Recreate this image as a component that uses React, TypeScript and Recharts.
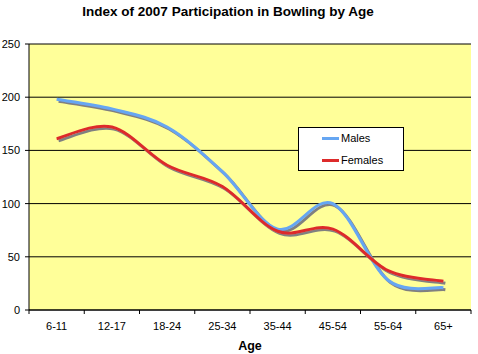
import { CartesianGrid, Legend, Line, LineChart, XAxis, YAxis } from "recharts";

const ageGroups = ["6-11", "12-17", "18-24", "25-34", "35-44", "45-54", "55-64", "65+"];
const males = [198, 189, 172, 130, 76, 100, 28, 21];
const females = [161, 172, 136, 116, 74, 76, 37, 27];
const seriesNames = ["Males", "Females"];
const yTicks = [0, 50, 100, 150, 200, 250];

const W = 478;
const H = 354;
const margin = { top: 44, right: 7, bottom: 0, left: 0 };
const yAxisWidth = 29;
const plotWidth = W - margin.left - margin.right - yAxisWidth;
const band = plotWidth / ageGroups.length;

const font = "Arial, 'Liberation Sans', sans-serif";
const maleColor = "#66A6F2";
const femaleColor = "#DD2B2B";

// Excel-style smoothed line (Catmull-Rom through each point)
const excelSmooth = (context: any) => {
  let pts: [number, number][] = [];
  return {
    areaStart() {},
    areaEnd() {},
    lineStart() {
      pts = [];
    },
    point(x: number, y: number) {
      pts.push([+x, +y]);
    },
    lineEnd() {
      const n = pts.length;
      if (!n) return;
      context.moveTo(pts[0][0], pts[0][1]);
      for (let i = 0; i < n - 1; i++) {
        const p0 = pts[Math.max(i - 1, 0)];
        const p1 = pts[i];
        const p2 = pts[i + 1];
        const p3 = pts[Math.min(i + 2, n - 1)];
        context.bezierCurveTo(
          p1[0] + (p2[0] - p0[0]) / 6,
          p1[1] + (p2[1] - p0[1]) / 6,
          p2[0] - (p3[0] - p1[0]) / 6,
          p2[1] - (p3[1] - p1[1]) / 6,
          p2[0],
          p2[1]
        );
      }
    },
  };
};

const data = ageGroups.map((age, i) => ({
  age,
  Males: males[i],
  Females: females[i],
}));

function AgeTick(props: any) {
  const { x, y, payload, index } = props;
  const isLast = index === ageGroups.length - 1;
  return (
    <g>
      <line x1={x - band / 2} x2={x - band / 2} y1={y - 4} y2={y} stroke="#000" />
      {isLast && (
        <line x1={x + band / 2} x2={x + band / 2} y1={y - 4} y2={y} stroke="#000" />
      )}
      <text x={x} y={y + 16} textAnchor="middle" fontSize={11} fontFamily={font} fill="#000">
        {payload.value}
      </text>
    </g>
  );
}

function LegendBox({ payload }: any) {
  const items = [...(payload || [])].sort(
    (a: any, b: any) => seriesNames.indexOf(a.value) - seriesNames.indexOf(b.value)
  );
  return (
    <div
      style={{
        border: "1px solid #000",
        background: "#fff",
        width: 104,
        height: 42,
        fontFamily: font,
        fontSize: 11,
        color: "#000",
        position: "relative",
      }}
    >
      {items.map((p: any, i: number) => (
        <div
          key={p.value}
          style={{ position: "absolute", left: 23, top: 4 + i * 22, display: "flex", alignItems: "center" }}
        >
          <span style={{ display: "inline-block", width: 17, height: 3, background: p.color, marginRight: 2 }} />
          <span>{p.value}</span>
        </div>
      ))}
    </div>
  );
}

export default function App() {
  return (
    <div style={{ position: "absolute", left: 0, top: 0, width: W, height: H, background: "#fff" }}>
      <div
        style={{
          position: "absolute",
          left: 0,
          top: 4,
          width: 456,
          textAlign: "center",
          fontFamily: font,
          fontWeight: "bold",
          fontSize: 13.5,
          color: "#000",
          zIndex: 2,
        }}
      >
        Index of 2007 Participation in Bowling by Age
      </div>
      <LineChart width={W} height={H} data={data} margin={margin}>
        <defs>
          <filter id="lineShadow" x="-5%" y="-5%" width="110%" height="120%">
            <feOffset in="SourceAlpha" dx={1.5} dy={2} result="off" />
            <feFlood floodColor="#808080" />
            <feComposite in2="off" operator="in" result="shadow" />
            <feMerge>
              <feMergeNode in="shadow" />
              <feMergeNode in="SourceGraphic" />
            </feMerge>
          </filter>
        </defs>
        <CartesianGrid fill="#FFFF99" stroke="#000" vertical={false} />
        <XAxis
          dataKey="age"
          stroke="#000"
          tickLine={false}
          tickSize={4}
          tickMargin={0}
          height={44}
          padding={{ left: band / 2, right: band / 2 }}
          tick={<AgeTick />}
          interval={0}
          label={{
            value: "Age",
            position: "insideBottom",
            offset: 4,
            fontSize: 12.5,
            fontWeight: "bold",
            fontFamily: font,
            fill: "#000",
          }}
        />
        <YAxis
          width={yAxisWidth}
          domain={[0, 250]}
          ticks={yTicks}
          stroke="#000"
          tickSize={4}
          tickMargin={5}
          tick={{ fontSize: 11, fontFamily: font, fill: "#000" }}
        />
        <Legend
          layout="vertical"
          align="center"
          verticalAlign="middle"
          content={<LegendBox />}
          wrapperStyle={{ left: 298, top: 127, width: 106 }}
        />
        <Line
          dataKey="Males"
          type={excelSmooth as any}
          stroke={maleColor}
          strokeWidth={3}
          dot={false}
          filter="url(#lineShadow)"
          isAnimationActive={false}
        />
        <Line
          dataKey="Females"
          type={excelSmooth as any}
          stroke={femaleColor}
          strokeWidth={3}
          dot={false}
          filter="url(#lineShadow)"
          isAnimationActive={false}
        />
      </LineChart>
    </div>
  );
}
